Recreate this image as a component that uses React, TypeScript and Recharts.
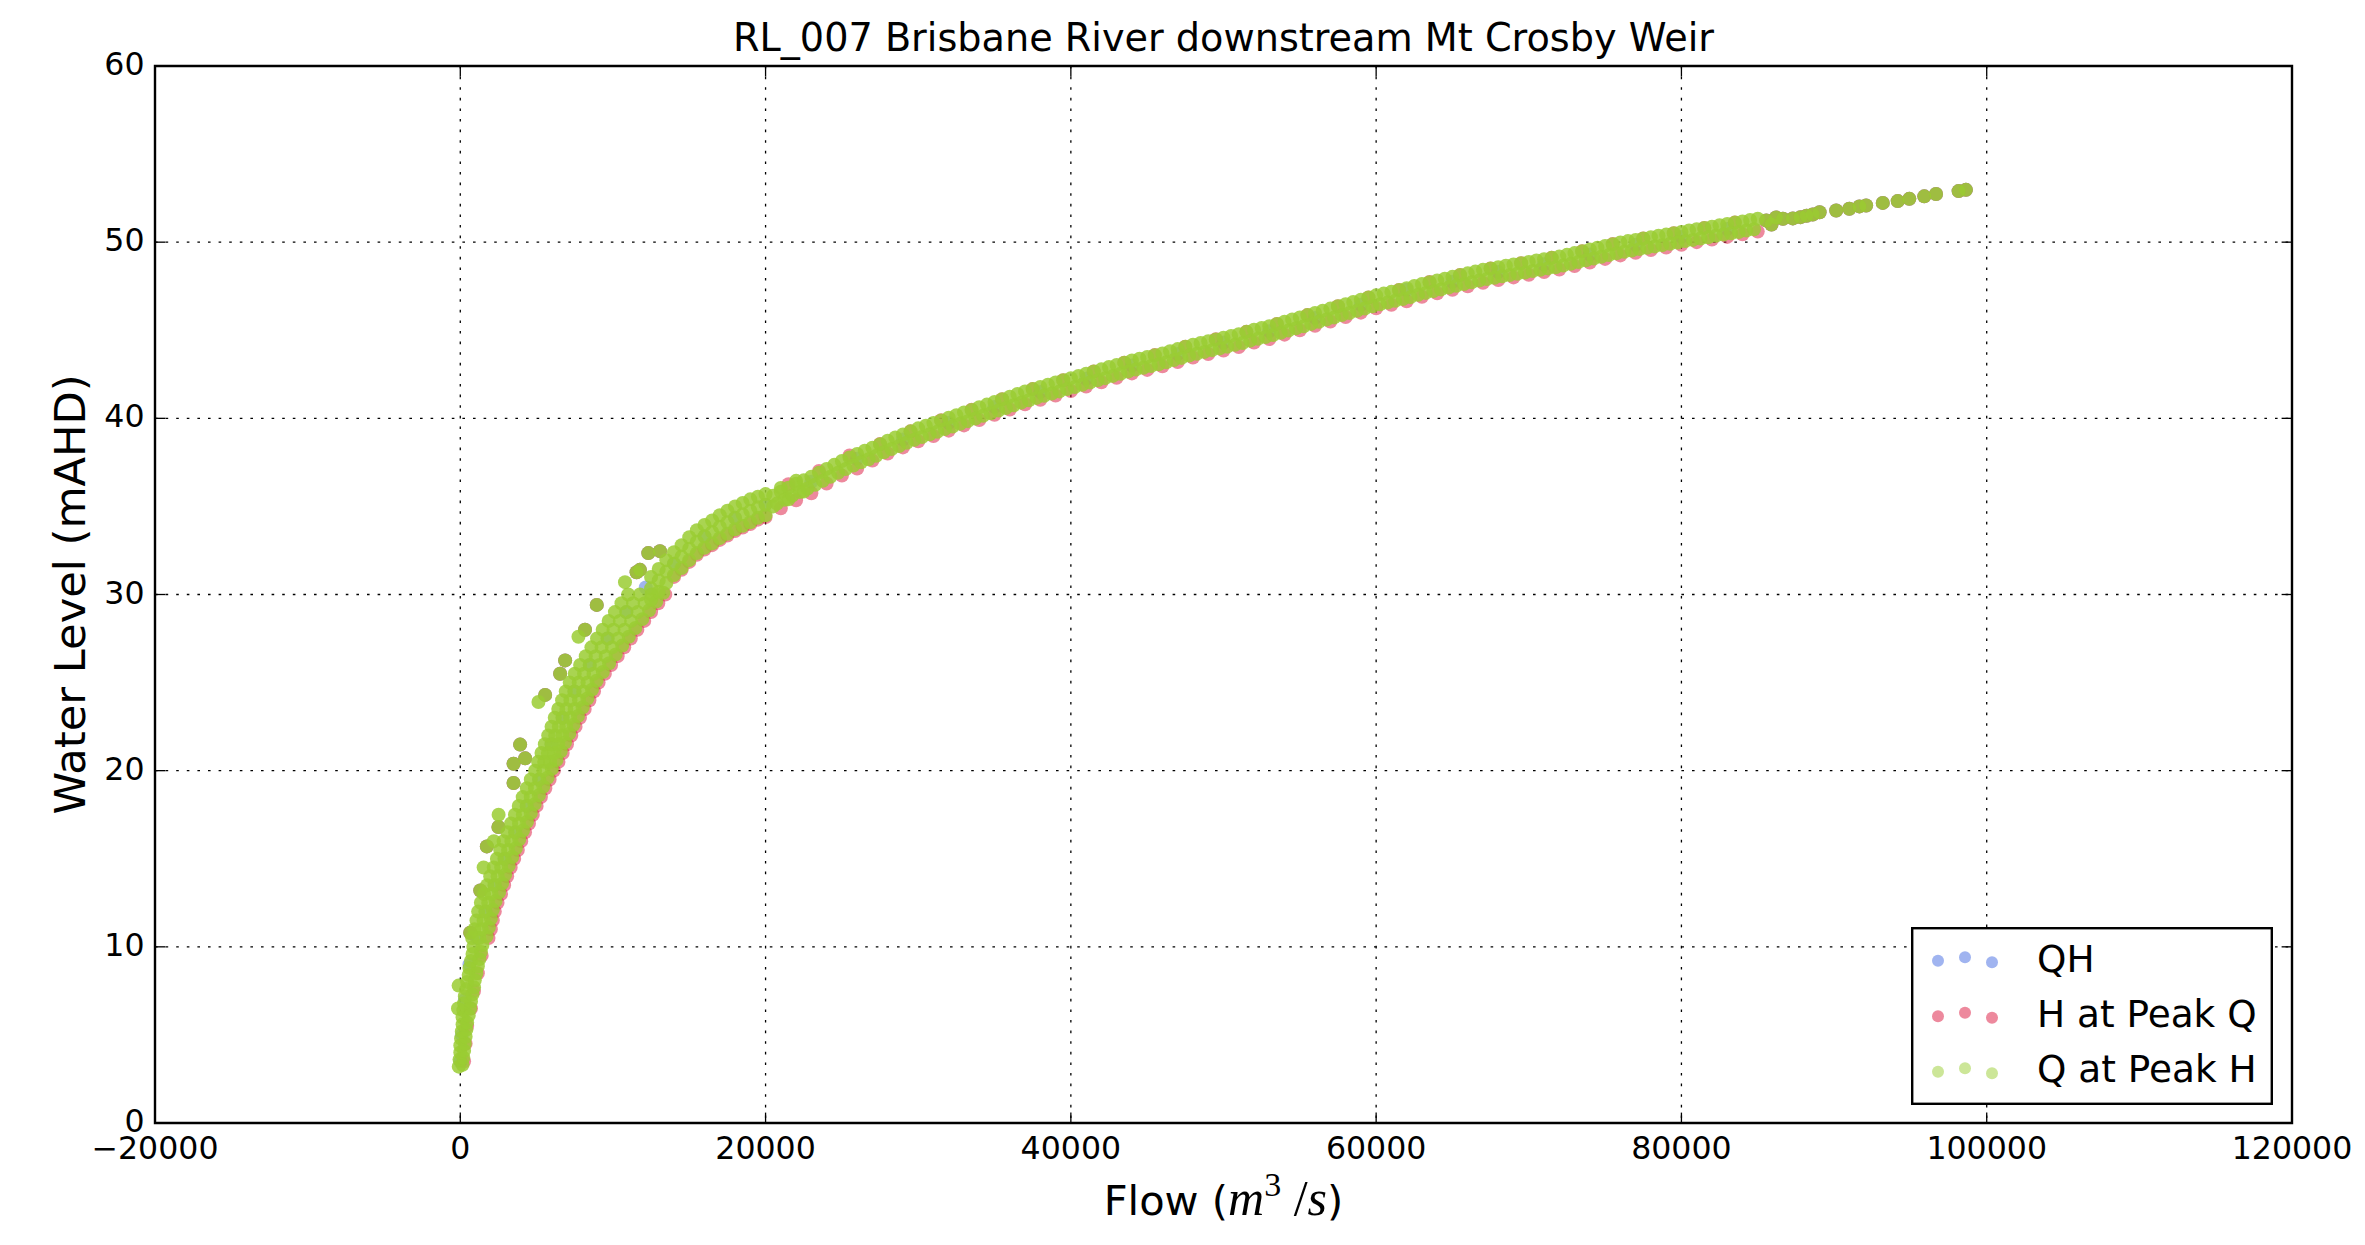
import React from 'react';
import { ScatterChart, Scatter, XAxis, YAxis, CartesianGrid, ReferenceArea, Legend, Label } from 'recharts';

// ---------------- layout constants (not data) ----------------
const WIDTH = 2365;
const HEIGHT = 1245;
const PLOT_LEFT = 155;
const PLOT_RIGHT = 2292;
const PLOT_TOP = 66;
const PLOT_BOTTOM = 1123;
const TICK_LEN = 10.4;
const FONT = 'DejaVu Sans';
const MATH_FONT = 'Liberation Serif';
const DOT_R = 7;

// ---------------- axis ticks / labels ----------------
const xTicks = [-20000, 0, 20000, 40000, 60000, 80000, 100000, 120000];
const yTicks = [0, 10, 20, 30, 40, 50, 60];
const chartTitle = 'RL_007 Brisbane River downstream Mt Crosby Weir';
const yLabel = 'Water Level (mAHD)';
const seriesNames = ['QH', 'H at Peak Q', 'Q at Peak H'];
const seriesColors = ['#4169E1', '#DC143C', '#9ACD32'];

// ---------------- data: [flow m3/s, level mAHD] ----------------
// Q at Peak H — low, near-vertical part of the band
const qAtPeakHLow = [
  [-100, 3.2], [150, 3.3], [-50, 3.6], [200, 3.7], [0, 4.0], [250, 4.1], [0, 4.4], [300, 4.5],
  [50, 4.8], [350, 4.9], [100, 5.2], [400, 5.3], [150, 5.6], [450, 5.7], [150, 6.0], [550, 6.1],
  [200, 6.4], [650, 6.5], [250, 6.8], [700, 6.9], [300, 7.2], [800, 7.3], [400, 7.6], [900, 7.7],
  [450, 8.0], [950, 8.1], [550, 8.4], [1050, 8.5], [600, 8.8], [1150, 8.9], [700, 9.2], [1250, 9.3],
  [800, 9.6], [1350, 9.7], [850, 10.0], [1450, 10.1],
];
// Q at Peak H — steep part of the band (10 to 20 m)
const qAtPeakHSteep = [
  [780, 10.5], [1250, 10.5], [1720, 10.6], [930, 11.0], [1400, 11.0], [1870, 11.1],
  [1060, 11.5], [1530, 11.5], [2000, 11.6], [1170, 12.0], [1650, 12.0], [2130, 12.1],
  [1350, 12.5], [1830, 12.5], [2310, 12.6], [1560, 13.0], [2050, 13.0], [2540, 13.1],
  [1760, 13.5], [2250, 13.5], [2740, 13.6], [1960, 14.0], [2450, 14.0], [2940, 14.1],
  [2190, 14.5], [2680, 14.5], [3170, 14.6], [2400, 15.0], [2900, 15.0], [3400, 15.1],
  [2620, 15.5], [3130, 15.5], [3640, 15.6], [2840, 16.0], [3350, 16.0], [3860, 16.1],
  [3090, 16.5], [3600, 16.5], [4110, 16.6], [3330, 17.0], [3850, 17.0], [4370, 17.1],
  [3580, 17.5], [4100, 17.5], [4620, 17.6], [3830, 18.0], [4350, 18.0], [4870, 18.1],
  [4090, 18.5], [4620, 18.5], [5150, 18.6], [4360, 19.0], [4900, 19.0], [5440, 19.1],
  [4620, 19.5], [5170, 19.5], [5720, 19.6], [4900, 20.0], [5450, 20.0], [6000, 20.1],
];
// Q at Peak H — widest part of the band (20 to 30 m)
const qAtPeakHWide = [
  [5100, 20.5], [5500, 20.5], [5900, 20.5], [6300, 20.6], [5320, 21.0], [5740, 21.0], [6160, 21.0], [6580, 21.1],
  [5540, 21.5], [5980, 21.5], [6420, 21.5], [6860, 21.6], [5760, 22.0], [6220, 22.0], [6680, 22.0], [7140, 22.1],
  [5980, 22.5], [6460, 22.5], [6940, 22.5], [7420, 22.6], [6190, 23.0], [6700, 23.0], [7200, 23.0], [7710, 23.1],
  [6420, 23.5], [6950, 23.5], [7490, 23.5], [8020, 23.6], [6670, 24.0], [7220, 24.0], [7780, 24.0], [8330, 24.1],
  [6910, 24.5], [7480, 24.5], [8060, 24.5], [8630, 24.6], [7170, 25.0], [7760, 25.0], [8340, 25.0], [8930, 25.1],
  [7500, 25.5], [8110, 25.5], [8730, 25.5], [9340, 25.6], [7850, 26.0], [8480, 26.0], [9120, 26.0], [9750, 26.1],
  [8220, 26.5], [8870, 26.5], [9530, 26.5], [10180, 26.6], [8590, 27.0], [9260, 27.0], [9940, 27.0], [10610, 27.1],
  [8960, 27.5], [9650, 27.5], [10350, 27.5], [11040, 27.6], [9330, 28.0], [10040, 28.0], [10760, 28.0], [11470, 28.1],
  [9720, 28.5], [10450, 28.5], [11190, 28.5], [11920, 28.6], [10130, 29.0], [10880, 29.0], [11620, 29.0], [12370, 29.1],
  [10560, 29.5], [11320, 29.5], [12080, 29.5], [12840, 29.6], [11000, 30.0], [11770, 30.0], [12530, 30.0], [13300, 30.1],
];
// Q at Peak H — bend of the curve (12500 to 22500 m3/s)
const qAtPeakHBend = [
  [12500, 29.7], [12500, 30.35], [12500, 31.0], [13000, 30.15], [13000, 30.8], [13000, 31.45],
  [13500, 30.65], [13500, 31.3], [13500, 31.95], [14000, 31.1], [14000, 31.75], [14000, 32.4],
  [14500, 31.5], [14500, 32.15], [14500, 32.8], [15000, 31.95], [15000, 32.6], [15000, 33.25],
  [15500, 32.35], [15500, 33.0], [15500, 33.65], [16000, 32.65], [16000, 33.3], [16000, 33.95],
  [16500, 32.9], [16500, 33.55], [16500, 34.2], [17000, 33.2], [17000, 33.85], [17000, 34.5],
  [17500, 33.45], [17500, 34.1], [17500, 34.75], [18000, 33.7], [18000, 34.35], [18000, 35.0],
  [18500, 33.9], [18500, 34.55], [18500, 35.2], [19000, 34.1], [19000, 34.75], [19000, 35.4],
  [19500, 34.35], [19500, 34.95], [19500, 35.55], [20000, 34.5], [20000, 35.1], [20000, 35.7],
  [20500, 35.0], [21000, 36.05], [21500, 35.4], [22000, 36.45], [22500, 35.85],
];
// Q at Peak H — top row of the flat part
const qAtPeakHTopRow = [
  [20500, 35.61], [21000, 35.83], [21500, 36.06], [22000, 36.28], [22500, 36.48], [23000, 36.68], [23500, 36.91],
  [24000, 37.13], [24500, 37.36], [25000, 37.58], [25500, 37.78], [26000, 37.98], [26500, 38.16], [27000, 38.33],
  [27500, 38.53], [28000, 38.73], [28500, 38.91], [29000, 39.08], [29500, 39.26], [30000, 39.43], [30500, 39.58],
  [31000, 39.73], [31500, 39.88], [32000, 40.03], [32500, 40.18], [33000, 40.33], [33500, 40.48], [34000, 40.63],
  [34500, 40.78], [35000, 40.93], [35500, 41.08], [36000, 41.23], [36500, 41.38], [37000, 41.53], [37500, 41.66],
  [38000, 41.78], [38500, 41.91], [39000, 42.03], [39500, 42.16], [40000, 42.28], [40500, 42.41], [41000, 42.53],
  [41500, 42.66], [42000, 42.78], [42500, 42.91], [43000, 43.03], [43500, 43.16], [44000, 43.28], [44500, 43.38],
  [45000, 43.48], [45500, 43.58], [46000, 43.68], [46500, 43.81], [47000, 43.93], [47500, 44.06], [48000, 44.18],
  [48500, 44.28], [49000, 44.38], [49500, 44.48], [50000, 44.58], [50500, 44.68], [51000, 44.78], [51500, 44.91],
  [52000, 45.03], [52500, 45.13], [53000, 45.23], [53500, 45.36], [54000, 45.48], [54500, 45.61], [55000, 45.73],
  [55500, 45.86], [56000, 45.98], [56500, 46.11], [57000, 46.23], [57500, 46.36], [58000, 46.48], [58500, 46.61],
  [59000, 46.73], [59500, 46.86], [60000, 46.98], [60500, 47.08], [61000, 47.18], [61500, 47.28], [62000, 47.38],
  [62500, 47.51], [63000, 47.63], [63500, 47.73], [64000, 47.83], [64500, 47.93], [65000, 48.03], [65500, 48.13],
  [66000, 48.23], [66500, 48.33], [67000, 48.43], [67500, 48.51], [68000, 48.58], [68500, 48.66], [69000, 48.73],
  [69500, 48.81], [70000, 48.88], [70500, 48.96], [71000, 49.03], [71500, 49.11], [72000, 49.18], [72500, 49.28],
  [73000, 49.38], [73500, 49.48], [74000, 49.58], [74500, 49.68], [75000, 49.78], [75500, 49.88], [76000, 49.98],
  [76500, 50.06], [77000, 50.13], [77500, 50.21], [78000, 50.28], [78500, 50.36], [79000, 50.43], [79500, 50.51],
  [80000, 50.58], [80500, 50.66], [81000, 50.73], [81500, 50.81], [82000, 50.88], [82500, 50.96], [83000, 51.03],
  [83500, 51.11], [84000, 51.18], [84500, 51.26], [85000, 51.33],
];
// Q at Peak H — bottom row of the flat part
const qAtPeakHBottomRow = [
  [20750, 35.16], [21250, 35.38], [21750, 35.61], [22250, 35.82], [22750, 36.02], [23250, 36.23], [23750, 36.46],
  [24250, 36.68], [24750, 36.91], [25250, 37.12], [25750, 37.32], [26250, 37.51], [26750, 37.68], [27250, 37.87],
  [27750, 38.07], [28250, 38.26], [28750, 38.43], [29250, 38.61], [29750, 38.78], [30250, 38.94], [30750, 39.09],
  [31250, 39.24], [31750, 39.39], [32250, 39.54], [32750, 39.69], [33250, 39.84], [33750, 39.99], [34250, 40.14],
  [34750, 40.29], [35250, 40.44], [35750, 40.59], [36250, 40.74], [36750, 40.89], [37250, 41.03], [37750, 41.16],
  [38250, 41.28], [38750, 41.41], [39250, 41.53], [39750, 41.66], [40250, 41.78], [40750, 41.91], [41250, 42.03],
  [41750, 42.16], [42250, 42.28], [42750, 42.41], [43250, 42.53], [43750, 42.66], [44250, 42.77], [44750, 42.87],
  [45250, 42.97], [45750, 43.07], [46250, 43.18], [46750, 43.31], [47250, 43.43], [47750, 43.56], [48250, 43.67],
  [48750, 43.77], [49250, 43.87], [49750, 43.97], [50250, 44.07], [50750, 44.17], [51250, 44.28], [51750, 44.41],
  [52250, 44.52], [52750, 44.62], [53250, 44.73], [53750, 44.86], [54250, 44.98], [54750, 45.11], [55250, 45.23],
  [55750, 45.36], [56250, 45.48], [56750, 45.61], [57250, 45.73], [57750, 45.86], [58250, 45.98], [58750, 46.11],
  [59250, 46.23], [59750, 46.36], [60250, 46.47], [60750, 46.57], [61250, 46.67], [61750, 46.77], [62250, 46.88],
  [62750, 47.01], [63250, 47.12], [63750, 47.22], [64250, 47.32], [64750, 47.42], [65250, 47.52], [65750, 47.62],
  [66250, 47.72], [66750, 47.82], [67250, 47.91], [67750, 47.98], [68250, 48.06], [68750, 48.13], [69250, 48.21],
  [69750, 48.28], [70250, 48.36], [70750, 48.43], [71250, 48.51], [71750, 48.58], [72250, 48.67], [72750, 48.77],
  [73250, 48.87], [73750, 48.97], [74250, 49.07], [74750, 49.17], [75250, 49.27], [75750, 49.37], [76250, 49.46],
  [76750, 49.53], [77250, 49.61], [77750, 49.68], [78250, 49.76], [78750, 49.83], [79250, 49.91], [79750, 49.98],
  [80250, 50.06], [80750, 50.13], [81250, 50.21], [81750, 50.28], [82250, 50.36], [82750, 50.43], [83250, 50.51],
  [83750, 50.58], [84250, 50.66], [84750, 50.73],
];
// Q at Peak H only — light outliers on the upper-left of the band
const qAtPeakHOutliers = [
  [10790, 30.7], [7740, 27.6], [5120, 23.9], [2510, 17.5], [1530, 14.5], [-110, 7.8], [-150, 6.5], [2200, 16.0],
];
// events present in all three series — outliers above the band
const sharedOutliers = [
  [12320, 32.35], [13080, 32.46], [11550, 31.26], [11770, 31.4], [8940, 29.41], [8170, 28.0], [6870, 26.26],
  [6540, 25.5], [5560, 24.3], [3920, 21.48], [4250, 20.7], [3490, 20.39], [3490, 19.3], [2500, 16.8],
  [1740, 15.7], [1310, 13.2], [650, 10.8],
];
// events present in all three series — sparse largest floods
const sharedTail = [
  [85560, 51.23], [85900, 51.0], [86200, 51.4], [86650, 51.33], [87300, 51.35], [87800, 51.42], [88200, 51.5],
  [88600, 51.57], [89050, 51.7], [90140, 51.8], [91000, 51.9], [91660, 52.03], [92100, 52.08], [93190, 52.23],
  [94170, 52.33], [94930, 52.46], [95910, 52.6], [96680, 52.73], [98160, 52.9], [98640, 52.97],
];

// H at Peak Q — lower/right edge of the steep part
const hAtPeakQSteep = [
  [250, 3.5], [350, 4.5], [450, 5.5], [700, 6.5], [900, 7.5], [1150, 8.5], [1400, 9.5],
  [1850, 10.5], [2000, 11.0], [2130, 11.5], [2260, 12.0], [2440, 12.5], [2670, 13.0], [2870, 13.5],
  [3070, 14.0], [3300, 14.5], [3530, 15.0], [3770, 15.5], [3990, 16.0], [4240, 16.5], [4500, 17.0],
  [4750, 17.5], [5000, 18.0], [5280, 18.5], [5570, 19.0], [5850, 19.5], [6130, 20.0], [6430, 20.5],
  [6710, 21.0], [6990, 21.5], [7270, 22.0], [7550, 22.5], [7840, 23.0], [8150, 23.5], [8460, 24.0],
  [8760, 24.5], [9060, 25.0], [9470, 25.5], [9880, 26.0], [10310, 26.5], [10740, 27.0], [11170, 27.5],
  [11600, 28.0], [12050, 28.5], [12500, 29.0], [12970, 29.5], [13430, 30.0],
  [14000, 31.0], [14500, 31.4], [15000, 31.85], [15500, 32.25], [16000, 32.55], [16500, 32.8],
  [17000, 33.1], [17500, 33.35], [18000, 33.6], [18500, 33.8], [19000, 34.0], [19500, 34.25], [20000, 34.4],
];
// H at Peak Q — lower edge of the flat part
const hAtPeakQLower = [
  [21000, 34.89], [22000, 35.35], [23000, 35.75], [24000, 36.3], [25000, 36.75], [26000, 37.15], [27000, 37.6],
  [28000, 38.0], [29000, 38.35], [30000, 38.7], [31000, 39.0], [32000, 39.3], [33000, 39.6], [34000, 39.9],
  [35000, 40.2], [36000, 40.5], [37000, 40.8], [38000, 41.05], [39000, 41.3], [40000, 41.55], [41000, 41.8],
  [42000, 42.05], [43000, 42.3], [44000, 42.55], [45000, 42.75], [46000, 42.95], [47000, 43.2], [48000, 43.45],
  [49000, 43.65], [50000, 43.85], [51000, 44.05], [52000, 44.3], [53000, 44.5], [54000, 44.75], [55000, 45.0],
  [56000, 45.25], [57000, 45.5], [58000, 45.75], [59000, 46.0], [60000, 46.25], [61000, 46.45], [62000, 46.65],
  [63000, 46.9], [64000, 47.1], [65000, 47.3], [66000, 47.5], [67000, 47.7], [68000, 47.85], [69000, 48.0],
  [70000, 48.15], [71000, 48.3], [72000, 48.45], [73000, 48.65], [74000, 48.85], [75000, 49.05], [76000, 49.25],
  [77000, 49.4], [78000, 49.55], [79000, 49.7], [80000, 49.85], [81000, 50.0], [82000, 50.15], [83000, 50.3],
  [84000, 50.45], [85000, 50.6],
];
// H at Peak Q — points along the top of the flat part
const hAtPeakQUpper = [
  [21500, 36.26], [23500, 37.01], [25500, 37.89], [27500, 38.54], [29500, 39.26], [31500, 39.89], [33500, 40.49],
  [35500, 41.09], [37500, 41.66], [39500, 42.16], [41500, 42.66], [43500, 43.16], [45500, 43.59], [47500, 44.06],
  [49500, 44.49], [51500, 44.91], [53500, 45.36], [55500, 45.86], [57500, 46.36], [59500, 46.86], [61500, 47.29],
  [63500, 47.74], [65500, 48.14], [67500, 48.51], [69500, 48.81], [71500, 49.11], [73500, 49.49], [75500, 49.89],
  [77500, 50.21], [79500, 50.51], [81500, 50.81], [83500, 51.11],
];

// QH — points along the middle of the band
const qhBand = [
  [0, 3.5], [100, 5.0], [300, 7.0], [600, 9.0], [1100, 10.5], [1650, 12.0], [2250, 13.5], [2900, 15.0],
  [3600, 16.5], [4350, 18.0], [5170, 19.5], [5980, 21.5], [6700, 23.0], [7480, 24.5], [8480, 26.0],
  [9650, 27.5], [10880, 29.0], [12150, 30.4], [14000, 31.75], [16000, 33.3], [18000, 34.35], [20000, 35.1],
  [23000, 36.4], [26000, 37.7], [29000, 38.8], [32000, 39.75], [35000, 40.65], [38000, 41.5], [41000, 42.25],
  [44000, 43.0], [47000, 43.65], [50000, 44.3], [53000, 44.95], [56000, 45.7], [59000, 46.45], [62000, 47.3],
  [65000, 47.75], [68000, 48.3], [71000, 48.75], [74000, 49.3], [77000, 49.85], [80000, 50.3], [83000, 50.75],
];

const toPoints = (rows: number[][]) => rows.map(([q, h]) => ({ q, h }));

const qhData = toPoints([...qhBand, ...sharedOutliers, ...sharedTail]);
const hAtPeakQData = toPoints([...hAtPeakQSteep, ...hAtPeakQLower, ...hAtPeakQUpper, ...sharedOutliers, ...sharedTail]);
const qAtPeakHData = toPoints([
  ...qAtPeakHLow, ...qAtPeakHSteep, ...qAtPeakHWide, ...qAtPeakHBend,
  ...qAtPeakHTopRow, ...qAtPeakHBottomRow, ...qAtPeakHOutliers, ...sharedOutliers, ...sharedTail,
]);

const seriesData = [qhData, hAtPeakQData, qAtPeakHData];
const seriesOpacity = [0.5, 0.5, 0.85];

// ---------------- renderers ----------------
const makeDot = (color: string, opacity: number) => (props: any) => {
  if (props.cx == null || props.cy == null) return <g />;
  return <circle cx={props.cx} cy={props.cy} r={DOT_R} fill={color} fillOpacity={opacity} stroke="none" />;
};

const fmtTick = (v: number) => (v < 0 ? '\u2212' + String(Math.abs(v)) : String(v));

const XTick = (props: any) => {
  const { x, payload } = props;
  return (
    <g>
      <line x1={x} x2={x} y1={PLOT_BOTTOM} y2={PLOT_BOTTOM - TICK_LEN} stroke="#000" strokeWidth={1.3} />
      <line x1={x} x2={x} y1={PLOT_TOP} y2={PLOT_TOP + TICK_LEN} stroke="#000" strokeWidth={1.3} />
      <text x={x} y={PLOT_BOTTOM + 36} textAnchor="middle" fontSize={31.6} fontFamily={FONT} fill="#000">
        {fmtTick(payload.value)}
      </text>
    </g>
  );
};

const YTick = (props: any) => {
  const { y, payload } = props;
  return (
    <g>
      <line x1={PLOT_LEFT} x2={PLOT_LEFT + TICK_LEN} y1={y} y2={y} stroke="#000" strokeWidth={1.3} />
      <line x1={PLOT_RIGHT} x2={PLOT_RIGHT - TICK_LEN} y1={y} y2={y} stroke="#000" strokeWidth={1.3} />
      <text x={PLOT_LEFT - 10.5} y={y + 9} textAnchor="end" fontSize={31.6} fontFamily={FONT} fill="#000">
        {fmtTick(payload.value)}
      </text>
    </g>
  );
};

const XLabel = (props: any) => {
  const vb = props.viewBox || {};
  const cx = (vb.x ?? PLOT_LEFT) + (vb.width ?? PLOT_RIGHT - PLOT_LEFT) / 2;
  return (
    <text x={cx} y={1215} textAnchor="middle" fontSize={41.6} fontFamily={FONT} fill="#000">
      <tspan>Flow (</tspan>
      <tspan fontFamily={MATH_FONT} fontStyle="italic" fontSize={50}>m</tspan>
      <tspan fontFamily={MATH_FONT} fontSize={34} dy={-19}>3</tspan>
      <tspan fontFamily={MATH_FONT} fontSize={50} dy={19}>{' /'}</tspan>
      <tspan fontFamily={MATH_FONT} fontStyle="italic" fontSize={50}>s</tspan>
      <tspan>)</tspan>
    </text>
  );
};

const YLabel = (props: any) => {
  const vb = props.viewBox || {};
  const cy = (vb.y ?? PLOT_TOP) + (vb.height ?? PLOT_BOTTOM - PLOT_TOP) / 2;
  const x = 85;
  return (
    <text x={x} y={cy} transform={`rotate(-90, ${x}, ${cy})`} textAnchor="middle" fontSize={43.2} fontFamily={FONT} fill="#000">
      {yLabel}
    </text>
  );
};

const legendDotDx = [27, 54, 81];
const legendDotDy = [0, -3.4, 1.6];

const LegendBox = () => (
  <svg width={362} height={178} style={{ display: 'block' }}>
    <rect x={1.2} y={1.2} width={359.6} height={175.6} fill="#fff" stroke="#000" strokeWidth={2.4} />
    {seriesNames.map((name, i) => (
      <g key={name}>
        {legendDotDx.map((dx, j) => (
          <circle key={j} cx={dx} cy={33.7 + i * 55.5 + legendDotDy[j]} r={6} fill={seriesColors[i]} fillOpacity={0.5} />
        ))}
        <text x={126} y={44.7 + i * 55} fontSize={37.4} fontFamily={FONT} fill="#000">{name}</text>
      </g>
    ))}
  </svg>
);

export default function App() {
  return (
    <div style={{ position: 'absolute', left: 0, top: 0, width: WIDTH, height: HEIGHT, background: '#fff' }}>
      <ScatterChart
        width={WIDTH}
        height={HEIGHT}
        margin={{ top: PLOT_TOP, right: WIDTH - PLOT_RIGHT, bottom: 0, left: 0 }}
      >
        <CartesianGrid stroke="#000" strokeWidth={1.3} strokeDasharray="2.6 8" />
        <XAxis
          type="number"
          dataKey="q"
          domain={[-20000, 120000]}
          ticks={xTicks}
          interval={0}
          allowDataOverflow
          height={HEIGHT - PLOT_BOTTOM}
          axisLine={false}
          tickLine={false}
          tick={<XTick />}
        >
          <Label content={<XLabel />} />
        </XAxis>
        <YAxis
          type="number"
          dataKey="h"
          domain={[0, 60]}
          ticks={yTicks}
          interval={0}
          allowDataOverflow
          width={PLOT_LEFT}
          axisLine={false}
          tickLine={false}
          tick={<YTick />}
        >
          <Label content={<YLabel />} />
        </YAxis>
        <ReferenceArea x1={-20000} x2={120000} y1={0} y2={60} fill="none" stroke="#000" strokeWidth={2.4} ifOverflow="visible" />
        {seriesData.map((data, i) => (
          <Scatter
            key={seriesNames[i]}
            name={seriesNames[i]}
            data={data}
            fill={seriesColors[i]}
            isAnimationActive={false}
            shape={makeDot(seriesColors[i], seriesOpacity[i])}
          />
        ))}
        <Legend
          layout="vertical"
          align="center"
          verticalAlign="middle"
          content={<LegendBox />}
          wrapperStyle={{ position: 'absolute', left: 1911, top: 927, width: 362, height: 178 }}
        />
      </ScatterChart>
      <svg width={WIDTH} height={80} style={{ position: 'absolute', left: 0, top: 0, pointerEvents: 'none' }}>
        <text x={(PLOT_LEFT + PLOT_RIGHT) / 2} y={51} textAnchor="middle" fontSize={38.2} fontFamily={FONT} fill="#000">
          {chartTitle}
        </text>
      </svg>
    </div>
  );
}
